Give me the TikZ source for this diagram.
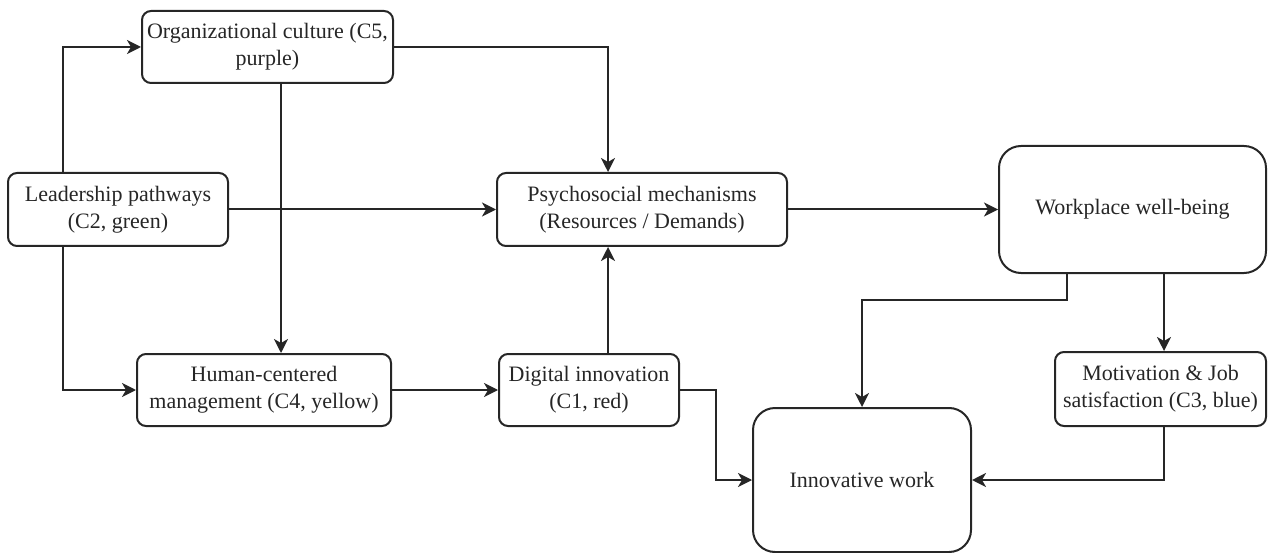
\documentclass[tikz,border=0pt]{standalone}
\usepackage{fontspec}
\setmainfont{Liberation Serif}
\usetikzlibrary{arrows.meta}
\definecolor{ln}{HTML}{262626}
\tikzset{
  box/.style={draw=ln, line width=2pt, rounded corners=9pt, align=center, inner sep=0pt,
    font=\fontsize{22}{27}\selectfont, text=ln},
  bigbox/.style={box, rounded corners=22pt},
  arr/.style={draw=ln, line width=2pt, -{Stealth[length=14pt,width=14pt,inset=4pt]}},
}
\begin{document}
\begin{tikzpicture}[x=1pt,y=-1pt]
\useasboundingbox (0,0) rectangle (1268,553);
\node[box, minimum width=251, minimum height=72] (OC) at (267.5,47) {Organizational culture (C5,\\purple)};
\node[box, minimum width=220, minimum height=73] (LP) at (118,209.5) {Leadership pathways\\(C2, green)};
\node[box, minimum width=290, minimum height=73] (PM) at (642,209.5) {Psychosocial mechanisms\\(Resources / Demands)};
\node[bigbox, minimum width=267, minimum height=127] (WW) at (1132.5,209.5) {Workplace well-being};
\node[box, minimum width=254, minimum height=72] (HCM) at (264,390) {Human-centered\\management (C4, yellow)};
\node[box, minimum width=180, minimum height=72] (DI) at (589,390) {Digital innovation\\(C1, red)};
\node[box, minimum width=211, minimum height=74] (MJ) at (1160.5,389) {Motivation \& Job\\satisfaction (C3, blue)};
\node[bigbox, minimum width=218, minimum height=144] (IW) at (862,480) {Innovative work};

\coordinate (xl) at (63,0);
\coordinate (xo) at (281,0);
\coordinate (xp) at (608,0);
\coordinate (xd) at (716,0);
\coordinate (xw) at (1067,300);
\coordinate (xm) at (1164,0);

\draw[arr] (xl |- LP.north) |- (OC.west);
\draw[arr] (xl |- LP.south) |- (HCM.west);
\draw[arr] (LP.east) -- (PM.west);
\draw[arr] (xo |- OC.south) -- (xo |- HCM.north);
\draw[arr] (OC.east) -| (xp |- PM.north);
\draw[arr] (xp |- DI.north) -- (xp |- PM.south);
\draw[arr] (HCM.east) -- (DI.west);
\draw[arr] (PM.east) -- (WW.west);
\draw[arr] (xm |- WW.south) -- (xm |- MJ.north);
\draw[arr] (xw |- WW.south) -- (xw) -| (IW.north);
\draw[arr] (DI.east) -| (xd |- IW.west) -- (IW.west);
\draw[arr] (xm |- MJ.south) |- (IW.east);
\end{tikzpicture}
\end{document}
